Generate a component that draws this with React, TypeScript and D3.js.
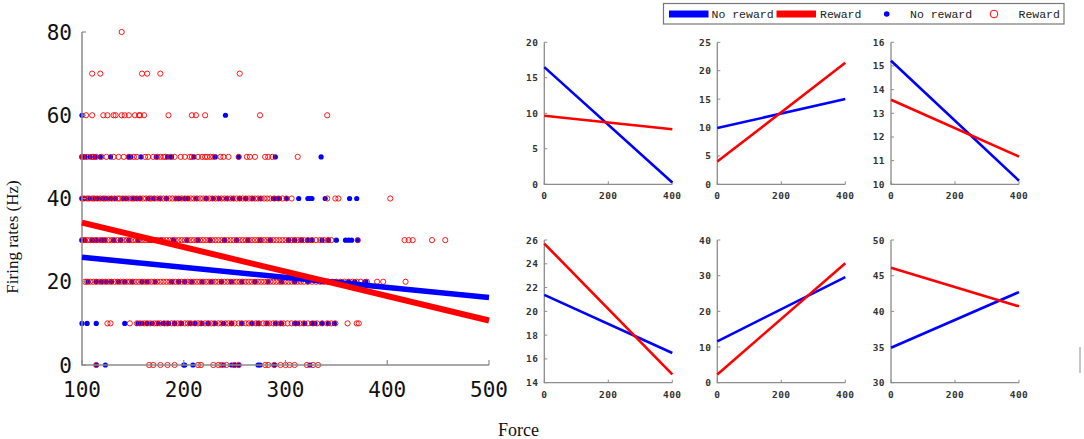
import React, { useEffect, useRef } from 'react'
import * as d3 from 'd3'

// firing-rate levels of the main scatter
const levels = [0, 10, 20, 30, 40, 50, 60, 70, 80]

// forces of the "No reward" trials at each level (blue dots)
const noReward0 = [114, 123, 200, 201, 209, 239, 247, 250, 254, 273, 275, 289, 324]
const noReward10 = [100, 105, 114, 142, 155, 159, 164, 169, 175, 180, 185, 191, 198, 206, 211, 218, 224, 231, 239, 247, 257, 267, 273, 282, 290, 296, 309, 312, 319, 326, 329, 336, 342, 348]
const noReward20 = [106, 114, 119, 124, 129, 136, 142, 149, 159, 164, 172, 188, 195, 201, 208, 218, 227, 237, 247, 257, 270, 283, 296, 309, 322, 336, 349, 355, 362, 368, 378, 379]
const noReward30 = [100, 103, 110, 114, 119, 122, 131, 138, 146, 155, 167, 178, 190, 203, 214, 226, 240, 252, 263, 275, 285, 303, 309, 316, 322, 326, 336, 342, 350, 359, 362, 365, 371]
const noReward40 = [100, 103, 108, 113, 116, 120, 124, 128, 133, 141, 144, 150, 153, 157, 165, 170, 176, 183, 193, 196, 201, 204, 212, 222, 229, 235, 242, 248, 255, 261, 268, 275, 288, 291, 294, 301, 313, 322, 324, 326, 339, 363, 370]
const noReward50 = [100, 103, 108, 113, 118, 128, 146, 148, 158, 173, 184, 188, 210, 231, 254, 290, 335]
const noReward60 = [100, 241]
const noReward70: number[] = []
const noReward80: number[] = []

// forces of the "Reward" trials at each level (red circles)
const reward0 = [114, 166, 170, 177, 184, 191, 214, 217, 229, 234, 237, 242, 250, 254, 280, 283, 289, 295, 300, 304, 309, 321, 327, 332]
const reward10 = [125, 128, 147, 154, 157, 161, 164, 167, 171, 174, 177, 181, 184, 188, 191, 194, 197, 201, 204, 207, 211, 214, 217, 221, 224, 227, 230, 234, 237, 241, 244, 247, 250, 254, 257, 261, 264, 267, 271, 274, 278, 281, 284, 288, 291, 295, 298, 302, 306, 310, 314, 318, 322, 327, 331, 336, 341, 345, 349, 361, 370, 372]
const reward20 = [103, 105, 108, 111, 114, 117, 120, 123, 126, 129, 132, 135, 138, 141, 144, 147, 150, 153, 156, 159, 162, 165, 168, 171, 174, 177, 180, 183, 186, 189, 192, 195, 198, 201, 204, 207, 210, 213, 216, 219, 222, 225, 228, 231, 234, 237, 240, 243, 246, 249, 252, 255, 258, 261, 264, 267, 270, 273, 276, 279, 282, 285, 288, 291, 294, 297, 300, 303, 306, 309, 312, 315, 318, 322, 326, 330, 334, 338, 342, 346, 350, 354, 358, 362, 366, 370, 374, 380, 390, 396, 418]
const reward30 = [100, 102, 105, 108, 111, 114, 117, 120, 123, 126, 129, 132, 135, 138, 141, 144, 147, 150, 153, 156, 159, 162, 165, 168, 171, 174, 177, 180, 183, 186, 189, 192, 195, 198, 201, 204, 207, 210, 213, 216, 219, 222, 225, 228, 231, 234, 237, 240, 243, 246, 249, 252, 255, 258, 261, 264, 267, 270, 273, 276, 279, 282, 285, 288, 291, 294, 297, 300, 303, 306, 309, 312, 315, 318, 322, 326, 330, 334, 338, 342, 345, 371, 417, 421, 425, 444, 457]
const reward40 = [100, 102, 105, 107, 110, 112, 115, 118, 121, 123, 126, 129, 132, 135, 137, 140, 143, 146, 149, 151, 154, 157, 160, 163, 166, 168, 171, 174, 177, 180, 183, 186, 189, 192, 195, 198, 201, 204, 207, 210, 213, 216, 219, 222, 225, 228, 231, 234, 237, 240, 243, 246, 249, 252, 255, 258, 261, 264, 267, 270, 273, 276, 279, 282, 285, 289, 293, 297, 301, 306, 341, 349, 352, 403]
const reward50 = [100, 101, 105, 110, 111, 114, 119, 124, 131, 136, 141, 146, 151, 154, 162, 165, 170, 174, 177, 180, 182, 187, 191, 197, 201, 206, 208, 214, 218, 221, 223, 226, 229, 236, 239, 244, 254, 262, 265, 270, 280, 283, 287, 312]
const reward60 = [104, 110, 121, 125, 131, 133, 139, 142, 146, 152, 156, 157, 161, 185, 208, 212, 221, 275, 341]
const reward70 = [110, 118, 159, 164, 177, 255]
const reward80 = [139]

const noRewardByLevel = [noReward0, noReward10, noReward20, noReward30, noReward40, noReward50, noReward60, noReward70, noReward80]
const rewardByLevel = [reward0, reward10, reward20, reward30, reward40, reward50, reward60, reward70, reward80]

// fitted regression lines of the main plot, [force, rate] at both ends
const mainNoRewardFit: [number, number][] = [[100, 25.9], [500, 16.2]]
const mainRewardFit: [number, number][] = [[100, 34.2], [500, 10.7]]

const mainXTicks = [100, 200, 300, 400, 500]
const mainYTicks = [0, 20, 40, 60, 80]

// small panels: y domain, y ticks, and fit values at force 0 and 400
const panelYDomains: [number, number][] = [[0, 20], [0, 25], [10, 16], [14, 26], [0, 40], [30, 50]]
const panelYTicks = [
  [0, 5, 10, 15, 20],
  [0, 5, 10, 15, 20, 25],
  [10, 11, 12, 13, 14, 15, 16],
  [14, 16, 18, 20, 22, 24, 26],
  [0, 10, 20, 30, 40],
  [30, 35, 40, 45, 50],
]
const panelNoReward: [number, number][] = [[16.5, 0.25], [9.9, 15.0], [15.22, 10.15], [21.38, 16.5], [11.6, 29.6], [34.9, 42.7]]
const panelReward: [number, number][] = [[9.65, 7.75], [4.0, 21.4], [13.57, 11.17], [25.7, 14.7], [2.3, 33.5], [46.1, 40.7]]
const panelXTicks = [0, 200, 400]
const panelForces = [0, 400]

const legendItems = ['No reward', 'Reward', 'No reward', 'Reward']

const BLUE = '#0000ff'
const RED = '#ff0000'
const AXIS = '#8c8c8c'
const MONO = '"DejaVu Sans Mono", monospace'
const SERIF = '"Liberation Serif", "Times New Roman", serif'

export default function App() {
  const svgRef = useRef<SVGSVGElement>(null)

  useEffect(() => {
    if (!svgRef.current) return
    const svg = d3.select(svgRef.current)
    svg.selectAll('*').remove()

    // ---------- main scatter ----------
    const x = d3.scaleLinear().domain([100, 500]).range([82, 489])
    const y = d3.scaleLinear().domain([0, 80]).range([365, 32])
    const main = svg.append('g')

    const blueDots = levels.flatMap((lv, i) => noRewardByLevel[i].map((f) => ({ f, lv })))
    const redDots = levels.flatMap((lv, i) => rewardByLevel[i].map((f) => ({ f, lv })))

    main
      .append('g')
      .selectAll('circle')
      .data(blueDots)
      .enter()
      .append('circle')
      .attr('cx', (d) => x(d.f))
      .attr('cy', (d) => y(d.lv))
      .attr('r', 2.6)
      .attr('fill', BLUE)

    main
      .append('g')
      .selectAll('circle')
      .data(redDots)
      .enter()
      .append('circle')
      .attr('cx', (d) => x(d.f))
      .attr('cy', (d) => y(d.lv))
      .attr('r', 2.6)
      .attr('fill', 'none')
      .attr('stroke', RED)
      .attr('stroke-width', 0.9)

    // axes
    main
      .append('path')
      .attr('d', `M${x(100)},${y(80)}V${y(0)}H${x(500)}`)
      .attr('fill', 'none')
      .attr('stroke', AXIS)
      .attr('stroke-width', 1.5)
    main
      .append('g')
      .selectAll('line')
      .data(mainYTicks)
      .enter()
      .append('line')
      .attr('x1', x(100))
      .attr('x2', x(100) + 4)
      .attr('y1', (d) => y(d))
      .attr('y2', (d) => y(d))
      .attr('stroke', AXIS)
      .attr('stroke-width', 1.2)
    main
      .append('g')
      .selectAll('line')
      .data(mainXTicks)
      .enter()
      .append('line')
      .attr('x1', (d) => x(d))
      .attr('x2', (d) => x(d))
      .attr('y1', y(0))
      .attr('y2', y(0) - 5)
      .attr('stroke', AXIS)
      .attr('stroke-width', 1.2)

    main
      .append('g')
      .selectAll('text')
      .data(mainYTicks)
      .enter()
      .append('text')
      .attr('x', 72)
      .attr('y', (d) => y(d) + 7.5)
      .attr('text-anchor', 'end')
      .attr('font-family', MONO)
      .attr('font-size', 21)
      .attr('fill', '#111')
      .text((d) => d)
    main
      .append('g')
      .selectAll('text')
      .data(mainXTicks)
      .enter()
      .append('text')
      .attr('x', (d) => x(d))
      .attr('y', 397)
      .attr('text-anchor', 'middle')
      .attr('font-family', MONO)
      .attr('font-size', 21)
      .attr('fill', '#111')
      .text((d) => d)

    // fits
    const mainLine = d3
      .line<[number, number]>()
      .x((d) => x(d[0]))
      .y((d) => y(d[1]))
    main.append('path').attr('d', mainLine(mainNoRewardFit)).attr('stroke', BLUE).attr('stroke-width', 5.5).attr('fill', 'none')
    main.append('path').attr('d', mainLine(mainRewardFit)).attr('stroke', RED).attr('stroke-width', 6).attr('fill', 'none')

    // axis titles
    svg
      .append('text')
      .attr('transform', 'translate(18,237) rotate(-90)')
      .attr('text-anchor', 'middle')
      .attr('font-family', SERIF)
      .attr('font-size', 17)
      .attr('fill', '#111')
      .text('Firing rates (Hz)')
    svg
      .append('text')
      .attr('x', 518.5)
      .attr('y', 436)
      .attr('text-anchor', 'middle')
      .attr('font-family', SERIF)
      .attr('font-size', 18)
      .attr('fill', '#111')
      .text('Force')

    // ---------- small panels ----------
    const colX = [544.3, 717.3, 891]
    const rowY = [
      [42.3, 184.3],
      [240, 382.7],
    ]
    panelYDomains.forEach((dom, i) => {
      const left = colX[i % 3]
      const [top, bottom] = rowY[Math.floor(i / 3)]
      const px = d3.scaleLinear().domain([0, 400]).range([left, left + 128])
      const py = d3.scaleLinear().domain(dom).range([bottom, top])
      const g = svg.append('g')

      g.append('path')
        .attr('d', `M${px(0)},${py(dom[1])}V${py(dom[0])}H${px(400)}`)
        .attr('fill', 'none')
        .attr('stroke', AXIS)
        .attr('stroke-width', 1.3)
      g.selectAll('.yt')
        .data(panelYTicks[i])
        .enter()
        .append('line')
        .attr('x1', px(0))
        .attr('x2', px(0) + 3)
        .attr('y1', (d) => py(d))
        .attr('y2', (d) => py(d))
        .attr('stroke', AXIS)
      g.selectAll('.xt')
        .data(panelXTicks)
        .enter()
        .append('line')
        .attr('x1', (d) => px(d))
        .attr('x2', (d) => px(d))
        .attr('y1', py(dom[0]))
        .attr('y2', py(dom[0]) - 3)
        .attr('stroke', AXIS)
      g.selectAll('.yl')
        .data(panelYTicks[i])
        .enter()
        .append('text')
        .attr('x', px(0) - 6)
        .attr('y', (d) => py(d) + 3.5)
        .attr('text-anchor', 'end')
        .attr('font-family', MONO)
        .attr('font-size', 9.5)
        .attr('font-weight', 'bold')
        .attr('letter-spacing', 0.4)
        .attr('fill', '#333')
        .text((d) => d)
      g.selectAll('.xl')
        .data(panelXTicks)
        .enter()
        .append('text')
        .attr('x', (d) => px(d))
        .attr('y', py(dom[0]) + 15)
        .attr('text-anchor', 'middle')
        .attr('font-family', MONO)
        .attr('font-size', 9.5)
        .attr('font-weight', 'bold')
        .attr('letter-spacing', 0.4)
        .attr('fill', '#333')
        .text((d) => d)

      const line = d3
        .line<number>()
        .x((_d, k) => px(panelForces[k]))
        .y((d) => py(d))
      g.append('path').attr('d', line(panelNoReward[i])).attr('stroke', BLUE).attr('stroke-width', 2.6).attr('fill', 'none')
      g.append('path').attr('d', line(panelReward[i])).attr('stroke', RED).attr('stroke-width', 2.6).attr('fill', 'none')
    })

    // stray mark at right edge
    svg.append('line').attr('x1', 1080).attr('x2', 1080).attr('y1', 347).attr('y2', 373).attr('stroke', AXIS).attr('stroke-width', 1)

    // ---------- legend ----------
    const lg = svg.append('g')
    lg.append('rect')
      .attr('x', 663.5)
      .attr('y', 3.5)
      .attr('width', 400.5)
      .attr('height', 20.5)
      .attr('fill', '#fff')
      .attr('stroke', '#777')
      .attr('stroke-width', 1.2)
    const cy = 14
    lg.append('rect').attr('x', 669).attr('y', cy - 3.5).attr('width', 39.5).attr('height', 7).attr('fill', BLUE)
    lg.append('rect').attr('x', 776.5).attr('y', cy - 3.5).attr('width', 39.5).attr('height', 7).attr('fill', RED)
    lg.append('circle').attr('cx', 886.7).attr('cy', cy).attr('r', 2.8).attr('fill', BLUE)
    lg.append('circle').attr('cx', 994).attr('cy', cy).attr('r', 3.8).attr('fill', 'none').attr('stroke', RED).attr('stroke-width', 1)
    const textX = [711.5, 820, 910, 1018.5]
    lg.selectAll('text')
      .data(legendItems)
      .enter()
      .append('text')
      .attr('x', (_d, k) => textX[k])
      .attr('y', cy + 4)
      .attr('font-family', '"Liberation Mono", monospace')
      .attr('font-size', 11.5)
      .attr('fill', '#222')
      .text((d) => d)
  }, [])

  return (
    <svg
      ref={svgRef}
      width={1084}
      height={439}
      style={{ position: 'absolute', left: 0, top: 0, background: '#fff' }}
    />
  )
}
